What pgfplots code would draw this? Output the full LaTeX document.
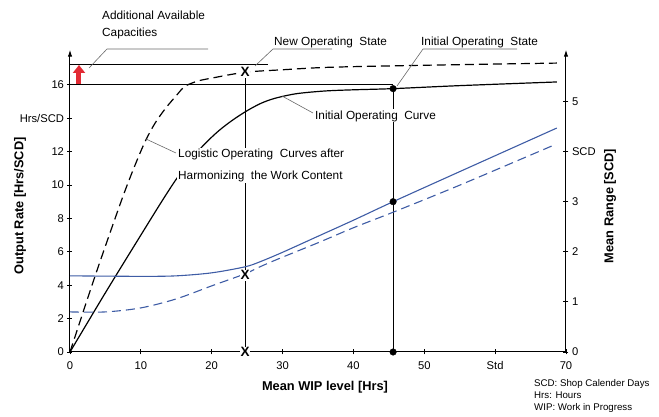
\documentclass[border=0pt]{standalone}
\usepackage{fontspec}
\setmainfont{Liberation Sans}
\usepackage{pgfplots}
\pgfplotsset{compat=1.18}
\usetikzlibrary{arrows.meta}

\definecolor{rangeblue}{RGB}{62,92,165}
\definecolor{capred}{RGB}{226,42,52}
\definecolor{leader}{RGB}{105,105,105}

\pgfplotsset{
  base/.style={at={(0pt,0pt)}, anchor=south west, scale only axis,
    width=496pt, height=302.27pt, xmin=0, xmax=70, clip=false},
  ticks/.style={tick align=outside, major tick length=5pt,
    tick style={black, line width=0.8pt},
    tick label style={font=\fontsize{11.2}{13}\selectfont},
    /pgf/number format/assume math mode=true},
}

\begin{document}
\begin{tikzpicture}[font=\fontsize{11.8}{14}\selectfont]

% output rate (left axis)
\begin{axis}[base, ticks, ymin=0, ymax=18.1,
  axis x line=bottom, axis y line=left,
  x axis line style={-, line width=1pt},
  y axis line style={-{Latex[length=7pt,width=4.5pt]}, line width=1pt},
  xtick={0,10,...,70}, xticklabels={0,10,20,30,40,50,Std,70},
  xticklabel style={yshift=-3pt, text height=8.2pt, text depth=0pt},
  ytick={0,2,...,16}, yticklabels={0,2,4,6,8,10,12,Hrs/SCD,16},
]
% initial operating curve
\addplot[black, line width=1.2pt, smooth] coordinates {
  (0,0) (5,3.55) (10,7.0) (13,9.05) (15,10.35) (17,11.5) (19,12.45)
  (21,13.25) (23,13.9) (25,14.45) (27,14.9) (29,15.2) (32,15.47)
  (36,15.63) (40,15.7) (45.6,15.77) (55,15.95) (68.7,16.17)
};
% operating curve after harmonizing
\addplot[black, line width=1.2pt, smooth, dash pattern=on 9pt off 5pt] coordinates {
  (0,0) (3.5,4.5) (7.2,9.0) (9,11.0) (10.6,12.6) (12,13.7) (13.5,14.6)
  (15,15.35) (16.2,15.9) (18,16.22) (20,16.4) (24.7,16.75) (30,16.9)
  (36.7,17.05) (50,17.17) (68.7,17.3)
};
\addplot[black, line width=0.9pt] coordinates {(0,16) (45.6,16)};
\addplot[black, line width=0.9pt] coordinates {(0,17.2) (27.9,17.2)};
\addplot[black, line width=1pt] coordinates {(24.7,16.75) (24.7,0)};
\addplot[black, line width=1pt] coordinates {(45.6,15.77) (45.6,0)};
\end{axis}

% mean range (right axis)
\begin{axis}[base, ticks, ymin=0, ymax=6.0333,
  axis x line=none, axis y line=right,
  y axis line style={-{Latex[length=7pt,width=4.5pt]}, line width=1pt},
  ytick={0,...,5}, yticklabels={0,1,2,3,SCD,5},
]
\addplot[rangeblue, line width=1.1pt, smooth] coordinates {
  (0,1.52) (10,1.51) (15,1.52) (20,1.58) (24.7,1.70) (26.8,1.80)
  (30,1.99) (35,2.31) (40,2.63) (45.6,3.0) (55,3.6) (68.7,4.47)
};
\addplot[rangeblue, line width=1.1pt, smooth, dash pattern=on 9pt off 5pt] coordinates {
  (0,0.80) (5,0.80) (10,0.88) (15,1.06) (20,1.32) (24.7,1.56) (26.8,1.70)
  (29.6,1.87) (35,2.18) (40,2.48) (45.6,2.79) (55,3.33) (68.3,4.13)
};
\end{axis}

% axis titles and notes
\node[font=\fontsize{12.8}{14}\selectfont\bfseries] at (255pt,-35pt) {Mean WIP level [Hrs]};
\node[font=\fontsize{12.8}{14}\selectfont\bfseries, rotate=90] at (-50pt,146pt) {Output Rate [Hrs/SCD]};
\node[font=\fontsize{12.8}{14}\selectfont\bfseries, rotate=90] at (540pt,146pt) {Mean Range [SCD]};
\node[font=\fontsize{9.7}{12}\selectfont, anchor=north west, align=left, inner sep=0pt]
  at (464pt,-27pt) {SCD: Shop Calender Days\\Hrs: Hours\\WIP: Work in Progress};

% annotations
\draw[capred, line width=5pt, -{Triangle[width=12pt,length=8pt]}] (9pt,268pt) -- (9pt,287pt);
\node[anchor=west, inner sep=0pt] at (32pt,337pt) {Additional Available};
\node[anchor=west, inner sep=0pt] at (32pt,319pt) {Capacities};
\draw[leader, line width=0.6pt] (19pt,284pt) -- (37pt,303pt) -- (138pt,303pt);

\node[anchor=west, inner sep=0pt] at (204pt,310pt) {New Operating\ \ State};
\draw[leader, line width=0.6pt] (185pt,286pt) -- (203pt,303pt) -- (262pt,303pt);

\node[anchor=west, inner sep=0pt] at (351pt,310pt) {Initial Operating\ \ State};
\draw[leader, line width=0.6pt] (327pt,266pt) -- (353pt,303pt) -- (447pt,303pt);

\draw[leader, line width=0.6pt] (212pt,256pt) -- (243pt,239pt);
\node[anchor=west, fill=white, inner sep=1pt] at (244pt,236pt) {Initial Operating\ \ Curve};

\draw[leader, line width=0.6pt] (76pt,213pt) -- (106pt,199pt);
\node[anchor=north west, fill=white, inner sep=1pt, align=left,
  font=\fontsize{11.8}{22}\selectfont] at (107pt,204pt)
  {Logistic\ Operating\ \ Curves after\\Harmonizing\ \ the Work Content};

% operating states
\begin{axis}[base, ymin=0, ymax=18.1, hide axis]
\addplot[only marks, mark=*, mark size=3.3pt, black] coordinates {
  (45.6,15.77) (45.6,9.0) (45.6,0)
};
\addplot[only marks, mark=none, nodes near coords={\bfseries X},
  every node near coord/.append style={anchor=center, fill=white,
    inner sep=0.8pt, font=\fontsize{13.5}{14}\selectfont}] coordinates {
  (24.7,16.75) (24.7,4.6) (24.7,0)
};
\end{axis}

\pgfresetboundingbox
\path (-70pt,-65pt) rectangle (589pt,352pt);
\end{tikzpicture}
\end{document}
